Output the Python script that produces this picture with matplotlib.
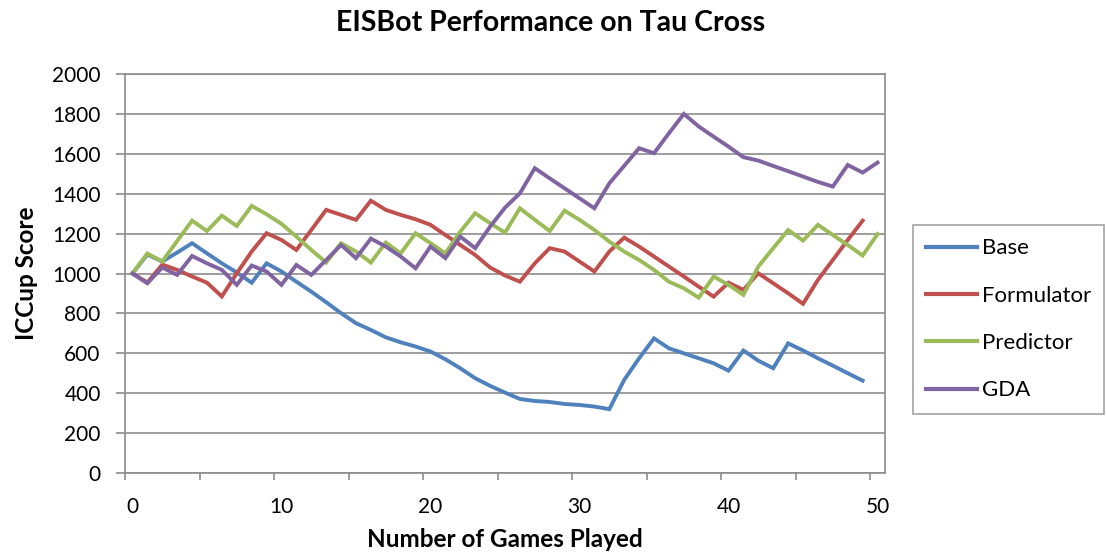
import matplotlib.pyplot as plt
import numpy as np

plt.rcParams['font.family'] = ['Lato', 'DejaVu Sans']

games = np.arange(51)

base = [1000, 1095, 1060, 1105, 1152, 1101, 1051, 1005, 954, 1051,
        1010, 959, 909, 856, 801, 751, 717, 680, 655, 634,
        609, 570, 525, 475, 437, 403, 371, 361, 356, 346,
        341, 333, 320, 467, 575, 675, 625, 600, 575, 550,
        513, 614, 563, 525, 650, 614, 575, 538, 500, 463]

formulator = [1000, 955, 1045, 1018, 985, 954, 885, 1001, 1110, 1202,
              1168, 1118, 1218, 1319, 1294, 1269, 1365, 1319, 1294, 1272,
              1244, 1193, 1143, 1093, 1030, 990, 959, 1051, 1127, 1110,
              1060, 1010, 1110, 1180, 1135, 1085, 1035, 985, 934, 884,
              954, 918, 1001, 951, 901, 848, 968, 1068, 1168, 1265]

predictor = [1000, 1100, 1060, 1163, 1265, 1213, 1290, 1238, 1339, 1297,
             1249, 1185, 1118, 1055, 1152, 1110, 1055, 1155, 1101, 1202,
             1152, 1101, 1210, 1302, 1252, 1205, 1327, 1269, 1213, 1315,
             1269, 1218, 1160, 1110, 1068, 1018, 959, 926, 879, 985,
             943, 893, 1035, 1127, 1218, 1165, 1244, 1193, 1143, 1090,
             1198]

gda = [1000, 951, 1030, 993, 1088, 1051, 1018, 943, 1040, 1010,
       943, 1043, 993, 1068, 1143, 1077, 1175, 1135, 1085, 1026,
       1135, 1077, 1185, 1127, 1235, 1330, 1402, 1528, 1477, 1427,
       1377, 1327, 1452, 1540, 1628, 1603, 1703, 1800, 1737, 1686,
       1636, 1583, 1566, 1539, 1513, 1486, 1459, 1436, 1544, 1506,
       1556]

series = [("Base", base, "#4F81BD"),
          ("Formulator", formulator, "#C0504D"),
          ("Predictor", predictor, "#9BBB59"),
          ("GDA", gda, "#8064A2")]

fig = plt.figure(figsize=(11.06, 5.58), dpi=100)
ax = fig.add_axes([125 / 1106, 85 / 558, 760 / 1106, 399 / 558])

for name, vals, color in series:
    ax.plot(games[:len(vals)], vals, color=color, lw=2.8, label=name,
            solid_joinstyle='miter')

grid_c = "#8c8c8c"
ax.set_xlim(-0.5, 50.5)
ax.set_ylim(0, 2000)
ax.set_yticks(range(0, 2001, 200))
ax.set_xticks(range(0, 51, 10))
ax.set_xticks(np.arange(-0.5, 51, 5), minor=True)
ax.yaxis.grid(True, color=grid_c, lw=1.2)
ax.set_axisbelow(True)
for s in ax.spines.values():
    s.set_color(grid_c)
    s.set_linewidth(1.2)
ax.tick_params(axis='x', which='major', length=0, labelsize=15, pad=17)
ax.tick_params(axis='x', which='minor', length=5, color=grid_c, width=1.2)
ax.tick_params(axis='y', length=6.5, color=grid_c, width=1.2, labelsize=15, pad=11)

# title is centred on the whole figure in the original, not on the axes
fig.text(551 / 1106, 1 - 23 / 558, "EISBot Performance on Tau Cross",
         fontsize=20.5, fontweight='bold', ha='center', va='center')
ax.set_xlabel("Number of Games Played", fontsize=17.5, fontweight='bold', labelpad=8)
ax.set_ylabel("ICCup Score", fontsize=17.5, fontweight='bold', labelpad=10)

leg = ax.legend(loc='upper left', bbox_to_anchor=(913 / 1106, 1 - 225 / 558),
                bbox_transform=fig.transFigure, fontsize=16, frameon=True,
                fancybox=False, edgecolor=grid_c, handlelength=2.3,
                labelspacing=1.23, borderpad=0.6, handletextpad=0.2,
                borderaxespad=0)
leg.get_frame().set_linewidth(1.2)
for h in leg.get_lines():
    h.set_linewidth(3)

plt.savefig("out.png", dpi=100)
